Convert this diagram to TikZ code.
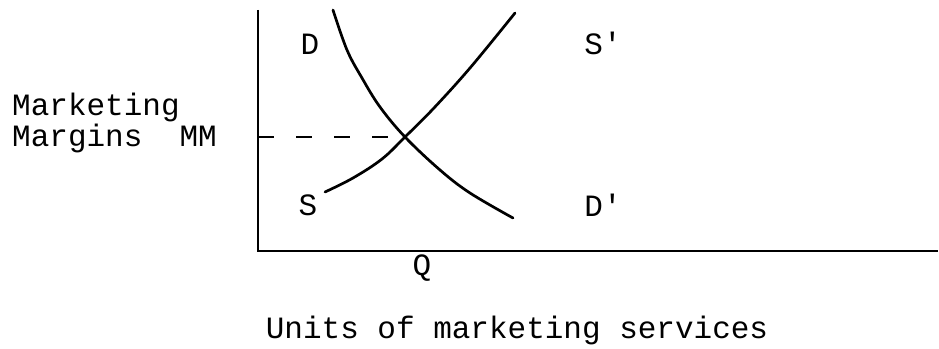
\documentclass[tikz,border=0pt]{standalone}
\usepackage{fontspec}
\setmainfont{Liberation Mono}
\usepackage{tikz}

\begin{document}
\begin{tikzpicture}[x=1pt,y=1pt,
  curve/.style={line width=2.7pt,line cap=round},
  axis/.style={line width=2.5pt},
  lbl/.style={inner sep=0pt,font=\fontsize{31}{33}\selectfont}]
\useasboundingbox (0,0) rectangle (939,348);

% axes
\coordinate (O) at (258,97);
\coordinate (ytop) at (258,338);
\coordinate (xend) at (938,97);
\draw[axis] (ytop) -- (O) -- (xend);

% demand and supply
\draw[curve] plot[smooth,tension=0.6] coordinates {(333,338) (347,298) (362,270) (380,241) (405,211) (440,178) (470,155) (513,130)};
\draw[curve] plot[smooth,tension=0.6] coordinates {(325,156) (353,170) (382,189) (405,211) (433,239) (470,280) (515,335)};
\coordinate (E) at (405,211);
\coordinate (Ey) at (258,211);
\draw[line width=2.5pt,dash pattern=on 16pt off 22pt] (Ey) -- (E);

% labels
\node[lbl] (D) at (310,304) {D};
\node[lbl] (S) at (308,143) {S};
\node[lbl] (Sp) at (603,305) {S\textquotesingle};
\node[lbl] (Dp) at (603,143) {D\textquotesingle};
\node[lbl] (Q) at (422,80) {Q};
\node[lbl,anchor=west] (mk) at (12,241) {Marketing};
\node[lbl,anchor=west] (mm) at (12,210) {Margins\ \ MM};
\node[lbl] (units) at (517,18) {Units of marketing services};
\end{tikzpicture}
\end{document}
